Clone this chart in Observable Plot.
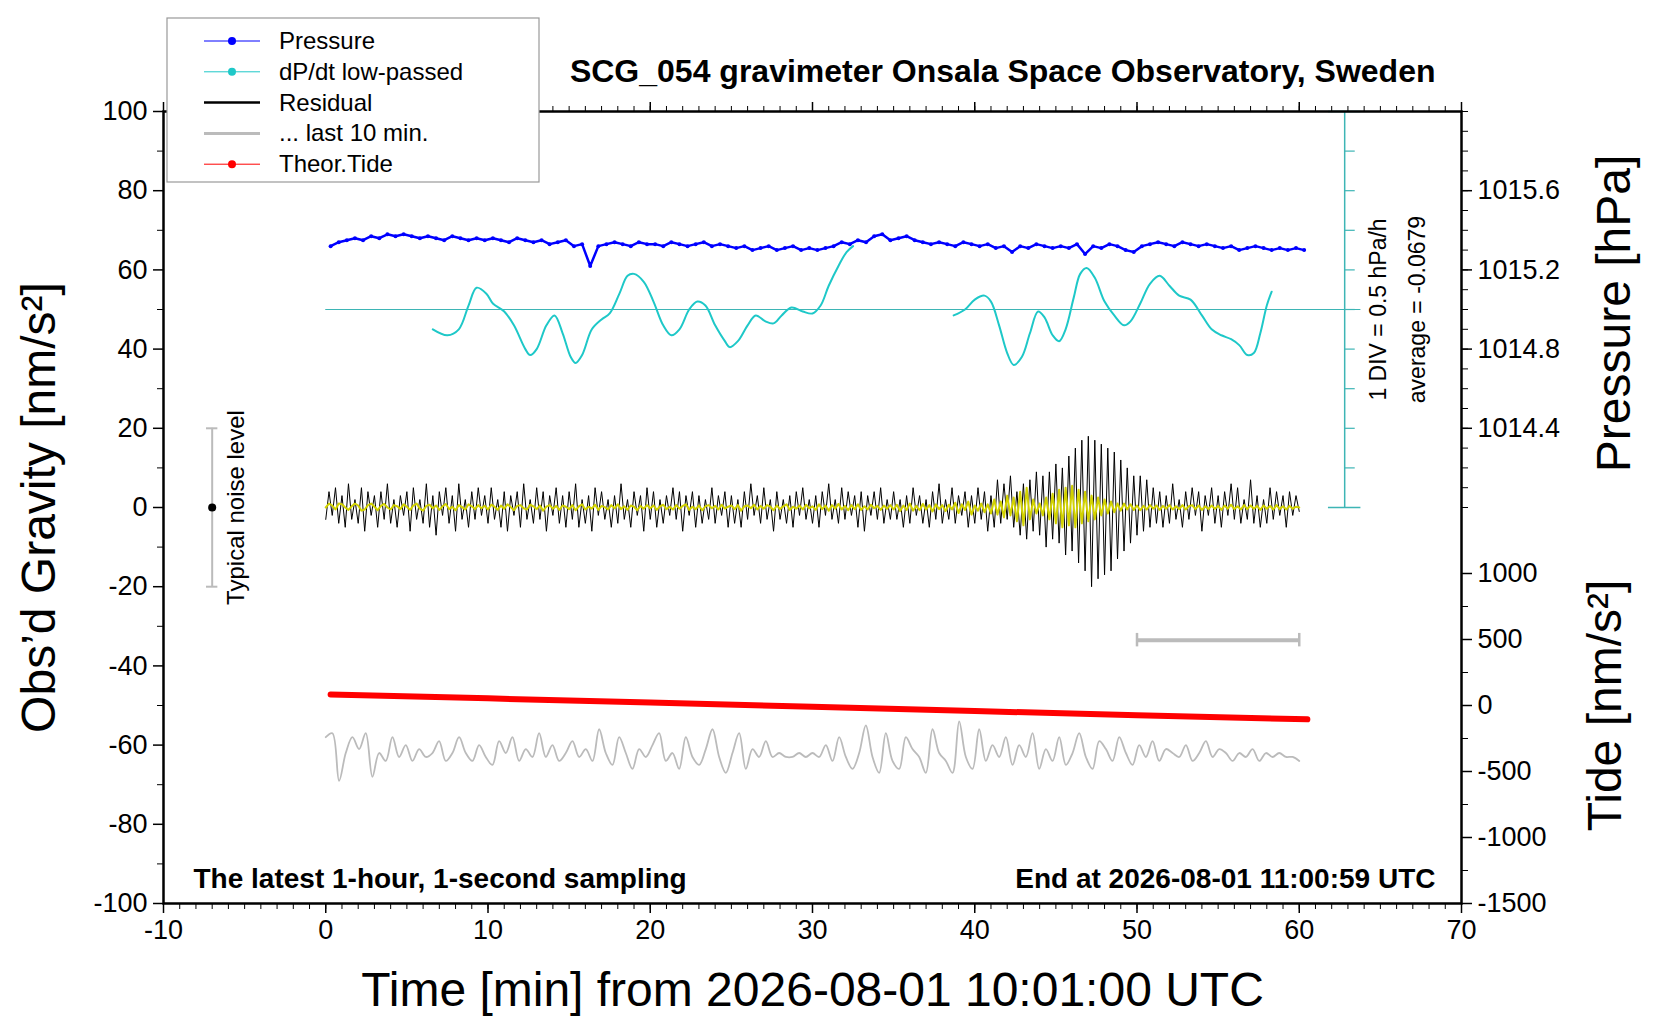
<!DOCTYPE html>
<html>
<head>
<meta charset="utf-8">
<script src="https://cdn.jsdelivr.net/npm/d3@7"></script>
<script src="https://cdn.jsdelivr.net/npm/@observablehq/plot@0.6"></script>
<style>
body { margin: 0; background: #fff; font-family: "Liberation Sans", Arial, sans-serif; }
#wrap { position: relative; width: 1660px; height: 1020px; }
#legend { position: absolute; left: 0; top: 0; }
</style>
</head>
<body>
<div id="wrap"><div id="chart"></div><svg id="legend" width="1660" height="200"></svg></div>
<script>
// pressure [hPa], every 0.5 min from t = 0.3
pressure = [
  1015.32,1015.34,1015.35,1015.36,1015.35,1015.37,1015.36,1015.38,1015.37,1015.38,
  1015.37,1015.36,1015.37,1015.36,1015.35,1015.37,1015.36,1015.35,1015.36,1015.35,
  1015.36,1015.35,1015.34,1015.36,1015.35,1015.34,1015.35,1015.33,1015.34,1015.35,
  1015.32,1015.33,1015.22,1015.32,1015.33,1015.34,1015.33,1015.32,1015.34,1015.33,
  1015.33,1015.32,1015.34,1015.33,1015.32,1015.33,1015.34,1015.32,1015.33,1015.32,
  1015.31,1015.32,1015.30,1015.31,1015.32,1015.30,1015.31,1015.32,1015.30,1015.31,
  1015.30,1015.31,1015.32,1015.34,1015.33,1015.35,1015.34,1015.37,1015.38,1015.35,
  1015.36,1015.37,1015.35,1015.34,1015.33,1015.34,1015.33,1015.32,1015.34,1015.33,
  1015.32,1015.33,1015.31,1015.32,1015.29,1015.32,1015.31,1015.33,1015.32,1015.31,
  1015.32,1015.31,1015.33,1015.28,1015.32,1015.31,1015.33,1015.32,1015.30,1015.29,
  1015.32,1015.33,1015.34,1015.33,1015.32,1015.34,1015.33,1015.32,1015.33,1015.32,
  1015.31,1015.32,1015.30,1015.31,1015.32,1015.31,1015.30,1015.31,1015.30,1015.31,
  1015.30
];
// low-passed dP/dt [hPa/h], two segments
dpdtT1 = [6.6,7.5,8.2,8.8,9.3,9.9,10.3,11.0,11.6,12.3,12.6,13.0,13.6,14.1,14.6,15.1,15.4,15.8,16.4,17.0,
  17.5,18.1,18.6,19.0,19.6,20.2,20.8,21.3,21.8,22.4,22.9,23.4,24.0,24.6,24.9,25.4,26.0,26.5,27.1,27.6,
  28.1,28.7,29.4,30.0,30.5,31.0,31.6,32.1,32.5];
dpdtV1 = [-0.25,-0.325,-0.25,0.05,0.275,0.2,0.075,-0.025,-0.2,-0.5,-0.575,-0.5,-0.2,-0.075,-0.3,-0.6,-0.675,-0.575,-0.25,-0.125,
  -0.05,0.2,0.425,0.45,0.35,0.1,-0.2,-0.325,-0.25,0,0.1,0.05,-0.2,-0.4,-0.475,-0.4,-0.2,-0.075,-0.15,-0.175,
  -0.075,0.025,-0.025,-0.05,0.05,0.3,0.55,0.725,0.8];
dpdtT2 = [38.7,39.4,40.0,40.6,41.0,41.5,42.0,42.4,42.9,43.4,43.9,44.3,44.8,45.2,45.6,46.1,46.5,46.9,47.4,48.0,
  48.6,49.2,49.6,50.2,50.8,51.4,52.0,52.6,53.3,54.0,54.6,55.2,55.8,56.3,56.8,57.2,57.6,58.0,58.3];
dpdtV2 = [-0.075,0,0.125,0.175,0.1,-0.2,-0.55,-0.7,-0.6,-0.3,-0.025,-0.1,-0.325,-0.4,-0.25,0.15,0.45,0.525,0.4,0.1,
  -0.075,-0.2,-0.15,0.075,0.325,0.425,0.3,0.175,0.125,-0.075,-0.25,-0.325,-0.375,-0.45,-0.575,-0.55,-0.3,0.05,0.225];
// residual [nm/s2], every 0.2 min from t = 0
residual = [
  -3,4,-2,5,-4,3,-5,6,-3,2,-4,5,-6,4,-2,3,-5,4,-3,6,-4,2,-5,3,-2,
  4,-6,5,-3,2,-4,6,-5,3,-7,4,-2,5,-4,3,-6,6,-3,2,-5,4,-3,5,-2,3,
  -4,5,-3,2,-5,4,-6,3,-2,4,-5,6,-3,2,-4,5,-3,4,-6,3,-2,5,-4,3,-5,
  4,-3,6,-5,2,-4,3,-6,5,-2,4,-3,2,-5,3,-4,6,-3,2,-5,4,-2,3,-6,5,
  -3,4,-5,2,-4,3,-2,5,-3,4,-6,3,-2,4,-5,3,-4,2,-3,5,-4,3,-2,4,-5,
  3,-4,2,-5,4,-3,6,-2,3,-4,5,-3,2,-6,4,-3,2,-4,3,-5,4,-2,5,-3,2,
  -4,3,-5,4,-2,6,-3,2,-4,5,-3,4,-2,3,-5,4,-6,3,-2,4,-3,5,-4,2,-3,
  4,-3,2,-5,3,-4,5,-2,3,-4,2,-5,4,-3,6,-4,2,-3,5,-4,3,-2,4,-5,3,
  -4,5,-3,4,-6,3,-5,7,-4,6,-3,8,-5,4,-7,6,-8,7,-6,9,-7,8,-10,9,-8,
  11,-9,10,-12,13,-11,15,-14,17,-16,18,-20,17,-18,16,-17,15,-16,14,-13,12,-11,10,-9,8,
  -7,8,-6,7,-5,5,-4,4,-5,3,-4,6,-3,2,-5,4,-3,5,-2,4,-6,3,-2,5,-4,
  3,-5,4,-2,6,-3,5,-4,2,-3,7,-4,3,-5,2,-4,5,-3,4,-2,3,-5,4,-2,3,
  -1
];
// filtered residual (yellow), same time grid
filtered = [
  0,1,0.5,-0.5,1,0.8,0,-0.6,0.3,1,0.5,-0.8,-0.5,0.6,1,0.2,-0.7,0.4,0.9,0,-0.5,0.6,0.3,-0.4,0.8,
  0.2,-0.6,0.5,1,-0.3,-0.8,0.4,0.7,-0.2,0.5,-0.6,0.3,0.9,-0.4,0.2,-0.7,0.6,0.1,-0.5,0.8,0.3,-0.4,0.6,-0.2,0.4,
  -0.5,0.7,0.2,-0.6,0.5,-0.3,0.8,0.1,-0.7,0.4,0.6,-0.2,-0.5,0.7,0.3,-0.4,0.5,-0.8,0.2,0.6,-0.3,0.4,-0.6,0.5,0.2,
  -0.4,0.6,-0.7,0.3,0.8,-0.5,0.2,-0.3,0.7,-0.6,0.4,0.1,-0.5,0.6,-0.2,0.8,-0.4,0.3,-0.6,0.5,0.2,-0.7,0.4,-0.3,0.6,
  -0.2,0.5,-0.6,0.3,0.7,-0.4,0.2,-0.5,0.6,-0.3,0.4,0.8,-0.6,0.2,-0.4,0.5,-0.7,0.3,0.6,-0.2,0.4,-0.5,0.7,-0.3,0.2,
  0.5,-0.4,0.6,-0.8,0.3,0.5,-0.2,0.7,-0.5,0.4,-0.3,0.6,0.2,-0.7,0.5,-0.4,0.3,0.8,-0.6,0.2,-0.3,0.5,-0.5,0.7,-0.2,
  0.3,-0.6,0.8,-0.4,0.5,-0.8,0.6,-0.3,0.9,-0.5,0.4,-0.7,0.6,-0.4,0.8,-0.6,0.3,-0.5,0.7,-0.2,0.4,-0.6,0.5,-0.3,0.6,
  -0.5,0.7,-0.9,0.5,-0.6,1,-0.8,0.4,-0.7,0.9,-0.5,0.6,-1,0.8,-0.4,0.6,-0.9,0.7,-0.5,1.2,-1.4,0.8,-0.6,1.5,-1.8,
  0.5,-0.8,1,-1.2,0.8,-1.5,2,-1.8,1.5,-2.5,3,-2,2.5,-3.5,4,-4.5,5,-3,2,-1.5,1,-2,2.5,-3,3.5,
  -4,4.5,-5,5,-4.5,5.5,-5,4.5,-4,4,-3.5,3,-3,2.5,-2,2,-1.5,1.5,-1.2,1,-0.8,1,-0.5,0.8,-0.6,
  0.5,-0.7,0.4,-0.5,0.6,-0.3,0.5,-0.6,0.4,-0.3,0.6,-0.5,0.3,-0.4,0.6,-0.5,0.3,0.6,-0.4,0.5,-0.6,0.3,-0.4,0.5,-0.3,
  0.4,-0.6,0.5,-0.3,0.7,-0.4,0.3,-0.5,0.6,-0.4,0.5,-0.3,0.4,-0.6,0.5,-0.3,0.4,-0.5,0.6,-0.4,0.3,-0.5,0.4,-0.3,0.2,
  0
];
// residual of the last 10 min, shown stretched over the hour, offset -62
last10 = [-58,-57,-69,-62,-58,-61,-57,-68,-62,-64,-58,-63,-60,-64,-61,-63,-62,-59,-64,-62,-58,-62,-64,-60,-63,
  -65,-59,-62,-58,-64,-61,-63,-57,-63,-60,-64,-62,-59,-63,-61,-64,-56,-62,-65,-58,-62,-66,-61,-63,-60,
  -57,-64,-62,-66,-58,-63,-65,-61,-56,-63,-67,-62,-57,-66,-61,-63,-59,-63,-62,-63,-63,-62,-63,-62,-63,
  -60,-64,-58,-63,-66,-62,-55,-63,-67,-57,-64,-66,-58,-61,-63,-67,-56,-62,-64,-67,-54,-63,-66,-56,-64,
  -60,-63,-58,-65,-60,-63,-57,-66,-61,-64,-58,-65,-62,-57,-63,-66,-59,-61,-64,-58,-62,-65,-60,-63,-59,
  -64,-61,-62,-63,-60,-64,-62,-59,-63,-61,-62,-64,-62,-63,-61,-64,-62,-63,-62,-63,-63,-64];
// theoretical tide [nm/s2]
tideT = [0.3, 10, 20, 30, 40, 50, 60.5];
tideV = [84, 54, 22, -10, -42, -73, -105];

pressureTicks = [1014.4, 1014.8, 1015.2, 1015.6];
tideTicks = [1000, 500, 0, -500, -1000, -1500];

// right-hand scales mapped onto the gravity axis
const pToY = p => (p - 1014) / 0.02;
const tideToY = v => v / 30 - 50;
const rateToY = r => 50 + 20 * r;

const pData = pressure.map((p, i) => ({t: 0.3 + 0.5 * i, y: pToY(p)}));
const dp = [
  ...dpdtT1.map((t, i) => ({t, y: rateToY(dpdtV1[i]), s: 1})),
  ...dpdtT2.map((t, i) => ({t, y: rateToY(dpdtV2[i]), s: 2}))
];
const res = residual.map((v, i) => ({t: 0.2 * i, y: v}));
const fil = filtered.map((v, i) => ({t: 0.2 * i, y: v}));
const g10 = last10.map((v, i) => ({t: 60 * i / (last10.length - 1), y: v}));
const tide = tideT.map((t, i) => ({t, y: tideToY(tideV[i])}));

const font = "Liberation Sans, Arial, sans-serif";
const teal = "#3db5b5";
const fmt = d => String(d);

const chart = Plot.plot({
  width: 1660,
  height: 1020,
  marginLeft: 163,
  marginRight: 199,
  marginTop: 111,
  marginBottom: 117,
  style: {fontFamily: font, fontSize: "27px", color: "#000", background: "#fff"},
  x: {type: "linear", domain: [-10, 70], axis: null},
  y: {type: "linear", domain: [-100, 100], axis: null},
  marks: [
    // cyan dP/dt scale
    Plot.ruleY([50], {x1: 0, x2: 63.8, stroke: teal, strokeWidth: 1.2}),
    Plot.ruleX([62.8], {y1: 0, y2: 100, stroke: teal, strokeWidth: 1.5}),
    Plot.ruleY(d3.range(10, 100, 10), {x1: 62.8, x2: 63.45, stroke: teal, strokeWidth: 1.2}),
    Plot.ruleY([0, 100], {x1: 61.8, x2: 63.8, stroke: teal, strokeWidth: 1.5}),
    Plot.text(["1 DIV = 0.5 hPa/h"], {x: 64.9, y: 50, rotate: -90, fontSize: 23}),
    Plot.text(["average = -0.0679"], {x: 67.3, y: 50, rotate: -90, fontSize: 23}),
    // pressure
    Plot.line(pData, {x: "t", y: "y", stroke: "#0000ff", strokeWidth: 2.5}),
    Plot.dot(pData, {x: "t", y: "y", r: 2, fill: "#0000ff"}),
    // dP/dt
    Plot.line(dp, {x: "t", y: "y", z: "s", stroke: "#1ec8c8", strokeWidth: 2, curve: "catmull-rom"}),
    // residual and filtered
    Plot.line(res, {x: "t", y: "y", stroke: "#000", strokeWidth: 1}),
    Plot.line(fil, {x: "t", y: "y", stroke: "#d2d200", strokeWidth: 2}),
    // last 10 min
    Plot.line(g10, {x: "t", y: "y", stroke: "#bbbbbb", strokeWidth: 1.8, curve: "catmull-rom"}),
    Plot.ruleY([-33.5], {x1: 50, x2: 60, stroke: "#bbbbbb", strokeWidth: 4}),
    Plot.ruleX([50, 60], {y1: -31.8, y2: -35.2, stroke: "#bbbbbb", strokeWidth: 2.5}),
    // tide
    Plot.line(tide, {x: "t", y: "y", stroke: "#ff0000", strokeWidth: 6, strokeLinecap: "round"}),
    // noise level indicator
    Plot.ruleX([-7], {y1: -20, y2: 20, stroke: "#bbbbbb", strokeWidth: 2}),
    Plot.ruleY([-20, 20], {x1: -7.35, x2: -6.65, stroke: "#bbbbbb", strokeWidth: 2}),
    Plot.dot([0], {x: () => -7, y: () => 0, r: 4, fill: "#000"}),
    Plot.text(["Typical noise level"], {x: -5.5, y: 0, rotate: -90, fontSize: 24}),
    // frame and axes
    Plot.frame({stroke: "#000", strokeWidth: 2.5}),
    Plot.axisX({anchor: "bottom", ticks: d3.range(-10, 71, 10), tickSize: 10, tickPadding: 6, tickFormat: fmt, label: null, strokeWidth: 1.5}),
    Plot.axisX({anchor: "bottom", ticks: d3.range(-10, 71, 1), tickSize: 6, tickFormat: () => "", label: null}),
    Plot.axisX({anchor: "top", ticks: d3.range(-10, 71, 10), tickSize: 10, tickFormat: () => "", label: null, strokeWidth: 1.5}),
    Plot.axisX({anchor: "top", ticks: d3.range(-10, 71, 1), tickSize: 6, tickFormat: () => "", label: null}),
    Plot.axisY({anchor: "left", ticks: d3.range(-100, 101, 20), tickSize: 10, tickPadding: 6, tickFormat: fmt, label: null, strokeWidth: 1.5}),
    Plot.axisY({anchor: "left", ticks: d3.range(-90, 100, 20), tickSize: 6, tickFormat: () => "", label: null}),
    Plot.axisY({anchor: "right", ticks: pressureTicks.map(pToY), tickSize: 10, tickPadding: 6,
      tickFormat: (d, i) => pressureTicks[i].toFixed(1), label: null, strokeWidth: 1.5}),
    Plot.axisY({anchor: "right", ticks: d3.range(0, 101, 5), tickSize: 6, tickFormat: () => "", label: null}),
    Plot.axisY({anchor: "right", ticks: tideTicks.map(tideToY), tickSize: 10, tickPadding: 6,
      tickFormat: (d, i) => String(tideTicks[i]), label: null, strokeWidth: 1.5}),
    Plot.axisY({anchor: "right", ticks: d3.range(-1500, 1001, 250).map(tideToY), tickSize: 6, tickFormat: () => "", label: null}),
    // in-frame notes
    Plot.text(["The latest 1-hour, 1-second sampling"], {frameAnchor: "bottom-left", dx: 30, dy: -16, fontSize: 28, fontWeight: "bold", textAnchor: "start"}),
    Plot.text(["End at 2026-08-01 11:00:59 UTC"], {frameAnchor: "bottom-right", dx: -26, dy: -16, fontSize: 28, fontWeight: "bold", textAnchor: "end"}),
    // titles
    Plot.text(["SCG_054 gravimeter Onsala Space Observatory, Sweden"], {frameAnchor: "top-right", dx: -26, dy: -52, fontSize: 32, fontWeight: "bold", textAnchor: "end"}),
    Plot.text(["Time [min] from 2026-08-01 10:01:00 UTC"], {frameAnchor: "bottom", dy: 102, fontSize: 48}),
    Plot.text(["Obs’d Gravity [nm/s²]"], {frameAnchor: "left", dx: -124, rotate: -90, fontSize: 48, textAnchor: "middle"}),
    Plot.text(["Pressure [hPa]"], {x: 70, y: 49, dx: 153, rotate: -90, fontSize: 48}),
    Plot.text(["Tide [nm/s²]"], {x: 70, y: -50, dx: 144, rotate: -90, fontSize: 48})
  ]
});
document.getElementById("chart").appendChild(chart);

// legend box
const items = [
  {label: "Pressure", color: "#0000ff", dot: true, w: 1},
  {label: "dP/dt low-passed", color: "#1ec8c8", dot: true, w: 1},
  {label: "Residual", color: "#000", dot: false, w: 2.5},
  {label: "... last 10 min.", color: "#bbbbbb", dot: false, w: 3},
  {label: "Theor.Tide", color: "#ff0000", dot: true, w: 1}
];
const lg = d3.select("#legend");
lg.append("rect").attr("x", 167).attr("y", 18).attr("width", 372).attr("height", 164)
  .attr("fill", "#fff").attr("stroke", "#999").attr("stroke-width", 1.2);
items.forEach((d, i) => {
  const y = 41 + i * 30.8;
  lg.append("line").attr("x1", 204).attr("x2", 260).attr("y1", y).attr("y2", y)
    .attr("stroke", d.color).attr("stroke-width", d.w);
  if (d.dot) lg.append("circle").attr("cx", 232).attr("cy", y).attr("r", 4).attr("fill", d.color);
  lg.append("text").attr("x", 279).attr("y", y + 8).attr("font-size", 24)
    .attr("font-family", font).text(d.label);
});
</script>
</body>
</html>
